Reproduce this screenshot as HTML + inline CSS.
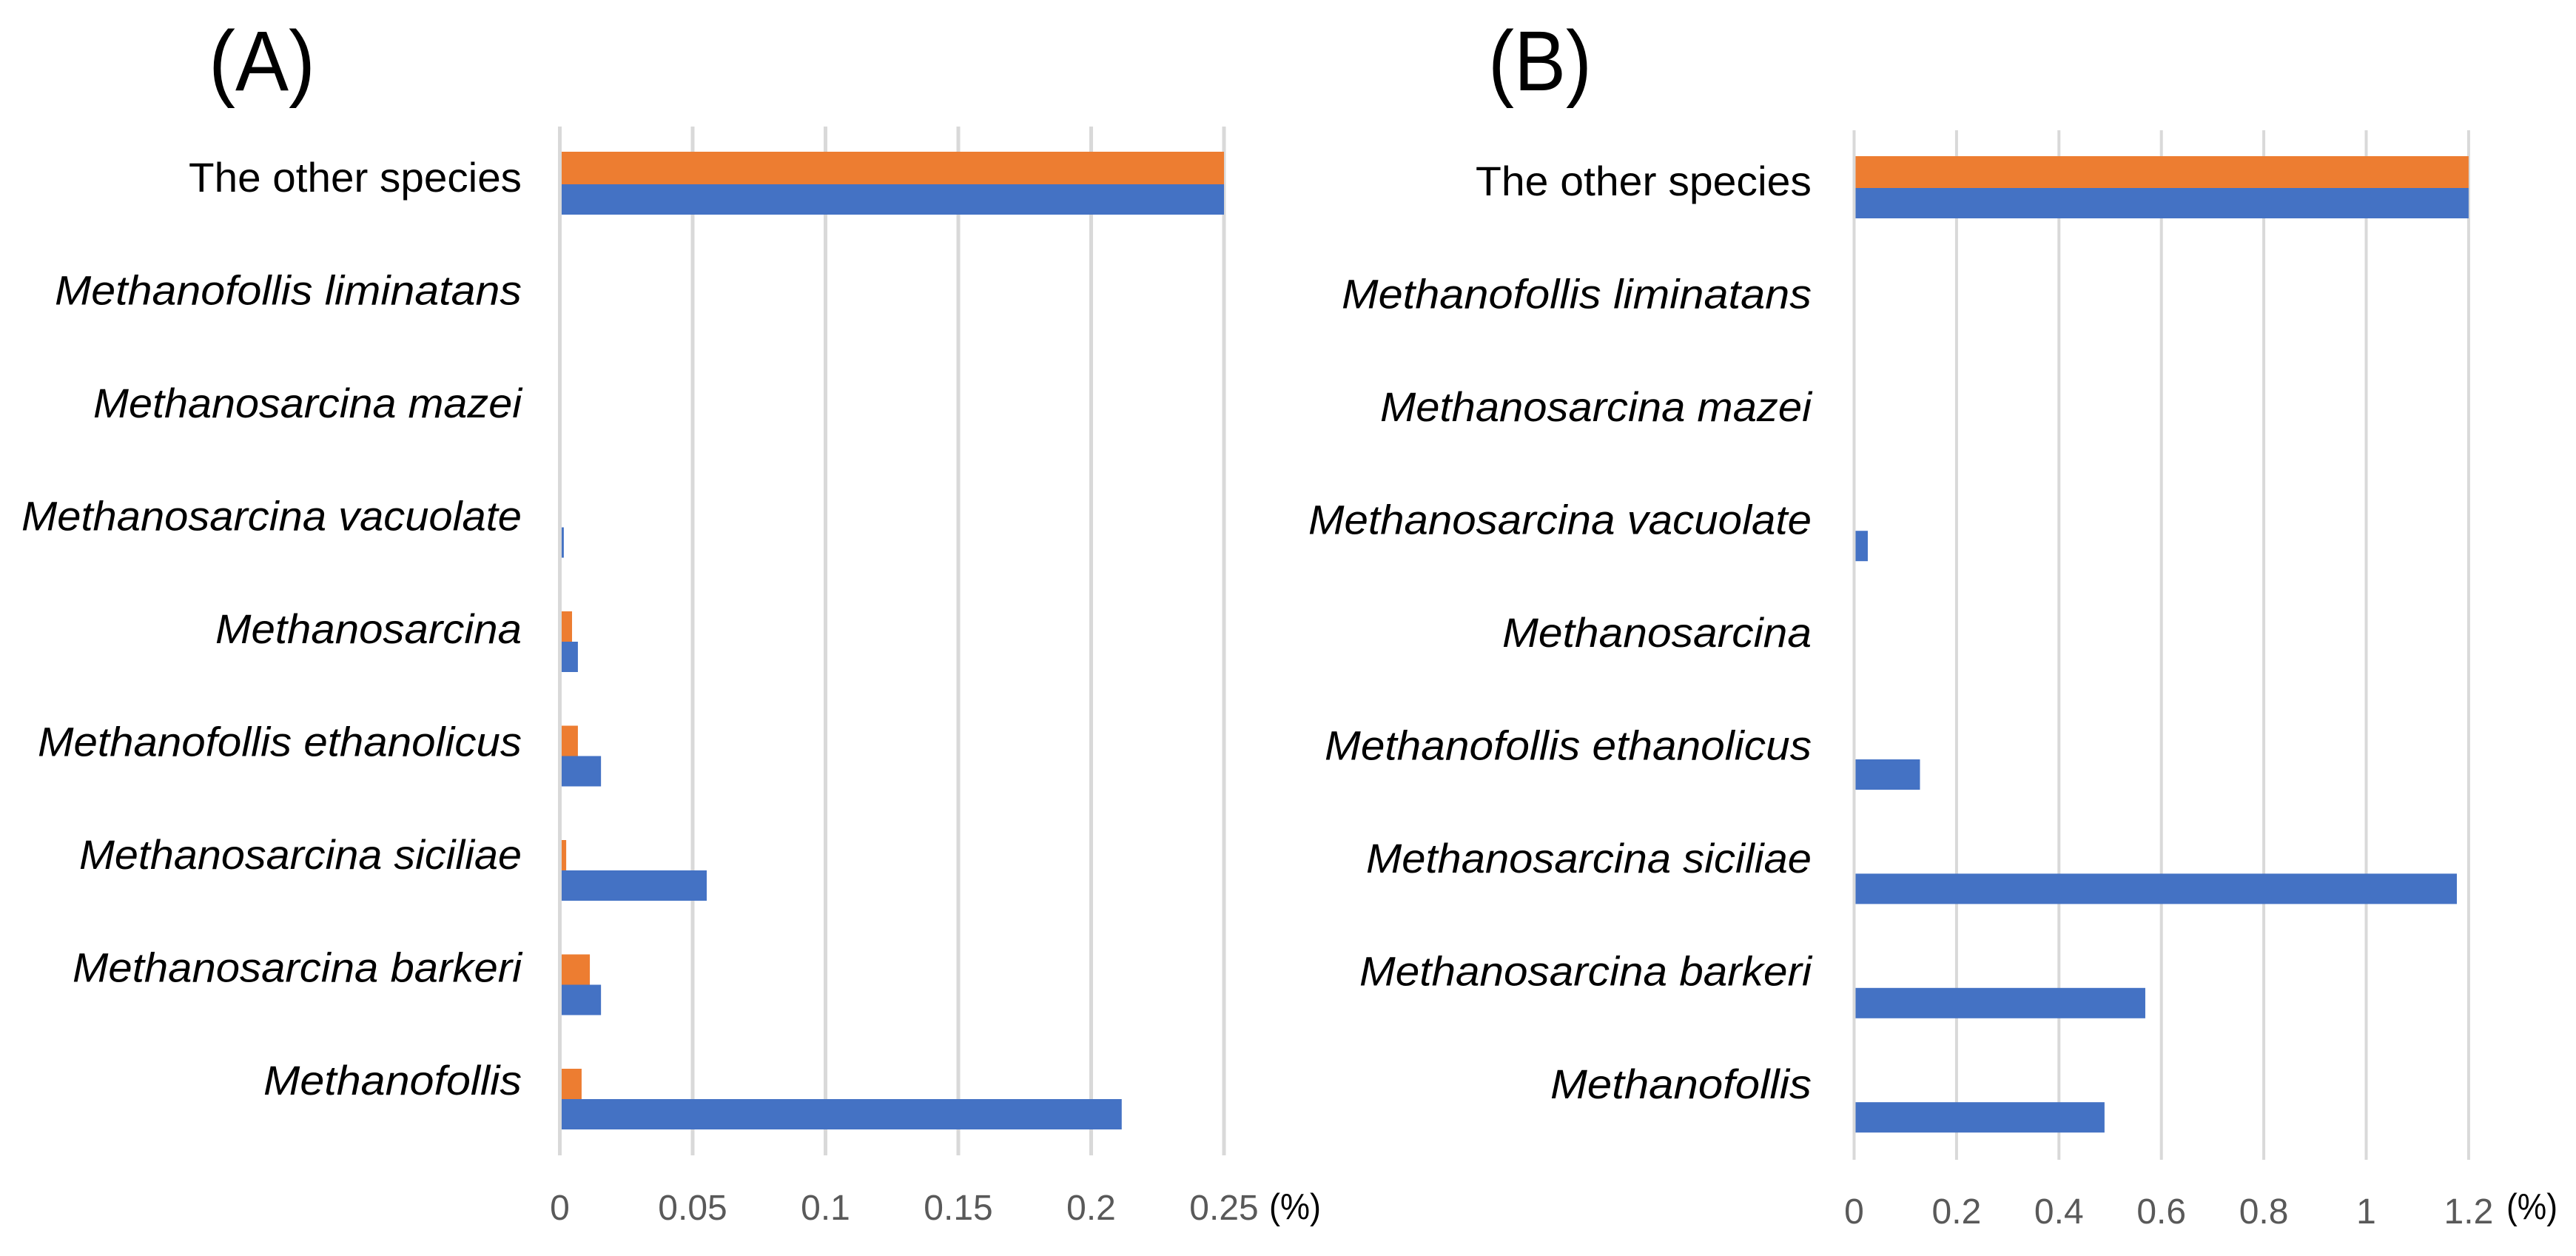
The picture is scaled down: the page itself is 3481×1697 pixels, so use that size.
<!DOCTYPE html>
<html lang="en">
<head>
<meta charset="utf-8">
<title>Species abundance bar charts</title>
<style>
  html, body { margin: 0; padding: 0; background: #ffffff; }
  body { width: 3481px; height: 1697px; overflow: hidden; }
  svg { display: block; font-family: "Liberation Sans", sans-serif; }
  .tick { font-size: 48px; fill: #595959; text-anchor: middle; }
  .cat { font-size: 56px; fill: #000000; text-anchor: end; }
  .unit { font-size: 49px; fill: #000000; }
  .panel { font-size: 115px; fill: #000000; }
</style>
</head>
<body>
<svg id="figure" xmlns="http://www.w3.org/2000/svg" width="3481" height="1697" viewBox="0 0 3481 1697">
  <rect x="0" y="0" width="3481" height="1697" fill="#ffffff"/>
  <text class="panel" x="282" y="122" textLength="144" lengthAdjust="spacingAndGlyphs">(A)</text>
  <text class="panel" x="2011" y="122" textLength="140" lengthAdjust="spacingAndGlyphs">(B)</text>
  <text class="unit" x="1715" y="1647" textLength="70" lengthAdjust="spacingAndGlyphs">(%)</text>
  <text class="unit" x="3387" y="1647" textLength="69" lengthAdjust="spacingAndGlyphs">(%)</text>
</svg>
<script>
const categories = ['The other species', 'Methanofollis liminatans', 'Methanosarcina mazei', 'Methanosarcina vacuolate', 'Methanosarcina', 'Methanofollis ethanolicus', 'Methanosarcina siciliae', 'Methanosarcina barkeri', 'Methanofollis'];
const seriesOrangeA = [0.25, 0, 0, 0, 0.0046, 0.0068, 0.0024, 0.0113, 0.0082];
const seriesBlueA = [0.25, 0, 0, 0.0015, 0.0068, 0.0155, 0.0553, 0.0155, 0.2115];
const seriesOrangeB = [1.2, 0, 0, 0, 0, 0, 0, 0, 0];
const seriesBlueB = [1.2, 0, 0, 0.0267, 0, 0.1286, 1.177, 0.5686, 0.489];
const tickLabelsA = ['0', '0.05', '0.1', '0.15', '0.2', '0.25'];
const tickLabelsB = ['0', '0.2', '0.4', '0.6', '0.8', '1', '1.2'];

/* typesetting only: rendered width of each category label, same order as categories */
const labelTypesetWidths = [450, 631, 579, 676, 414, 654, 598, 607, 349];

const SVG_NS = 'http://www.w3.org/2000/svg';
const figure = document.getElementById('figure');

function make(tag, parent) {
  const el = document.createElementNS(SVG_NS, tag);
  parent.appendChild(el);
  return el;
}

function drawGridLine(parent, x, top, bottom, width, isZero) {
  const line = make('rect', parent);
  
  
  line.setAttribute('x', x - width / 2);
  line.setAttribute('y', top);
  line.setAttribute('width', width);
  line.setAttribute('height', bottom - top);
  line.setAttribute('fill', '#D9D9D9');
}

function drawBar(parent, x0, xEnd, y, height, color, name) {
  const bar = make('rect', parent);
  
  
  bar.setAttribute('x', x0);
  bar.setAttribute('y', y);
  bar.setAttribute('width', Math.max(0, xEnd - x0));
  bar.setAttribute('height', height);
  bar.setAttribute('fill', color);
}

function drawChart(opts) {
  const group = make('g', figure);
  
  

  const xScale = function (v) { return opts.x0 + v * opts.pxPerUnit; };
  const yBand = function (i) { return opts.bandStart + i * opts.bandStep; };
  const yLabel = function (i) { return opts.labelStart + i * opts.labelStep; };

  opts.ticks.forEach(function (label, i) {
    if (i > 0) {
      drawGridLine(group, xScale(parseFloat(label)), opts.top, opts.bottom, opts.gridWidth, false);
    }
  });

  categories.forEach(function (cat, i) {
    const cy = yBand(i);
    const orangeHeight = i === 0 ? opts.topBarHeight : opts.barHeight;
    drawBar(group, opts.x0, xScale(opts.orange[i]), cy - orangeHeight, orangeHeight, '#ED7D31', 'bar-orange');
    drawBar(group, opts.x0, xScale(opts.blue[i]), cy, opts.barHeight, '#4472C4', 'bar-blue');

    const isSpeciesName = cat !== 'The other species';
    const label = make('text', group);
    
    
    label.setAttribute('class', 'cat');
    label.setAttribute('font-style', isSpeciesName ? 'italic' : 'normal');
    label.setAttribute('x', opts.labelRight);
    label.setAttribute('y', yLabel(i));
    label.setAttribute('textLength', labelTypesetWidths[i] + opts.labelWidthExtra);
    label.setAttribute('lengthAdjust', 'spacingAndGlyphs');
    label.textContent = cat;
  });

  drawGridLine(group, opts.x0, opts.top, opts.bottom, opts.gridWidth, true);

  opts.ticks.forEach(function (text) {
    const tick = make('text', group);
    
    
    tick.setAttribute('class', 'tick');
    tick.setAttribute('x', xScale(parseFloat(text)));
    tick.setAttribute('y', opts.tickBaseline);
    tick.textContent = text;
  });
}

drawChart({
  name: 'chart-panel-a',
  orange: seriesOrangeA,
  blue: seriesBlueA,
  ticks: tickLabelsA,
  x0: 756.5,
  pxPerUnit: 3590,
  top: 171,
  bottom: 1561,
  gridWidth: 5,
  bandStart: 249,
  bandStep: 154.5,
  barHeight: 41,
  topBarHeight: 44,
  labelRight: 705,
  labelWidthExtra: 0,
  labelStart: 259,
  labelStep: 152.5,
  tickBaseline: 1648
});

drawChart({
  name: 'chart-panel-b',
  orange: seriesOrangeB,
  blue: seriesBlueB,
  ticks: tickLabelsB,
  x0: 2505.5,
  pxPerUnit: 692,
  top: 176,
  bottom: 1567,
  gridWidth: 4,
  bandStart: 254,
  bandStep: 154.4,
  barHeight: 41,
  topBarHeight: 43,
  labelRight: 2448,
  labelWidthExtra: 4,
  labelStart: 264,
  labelStep: 152.5,
  tickBaseline: 1653
});
</script>
</body>
</html>
